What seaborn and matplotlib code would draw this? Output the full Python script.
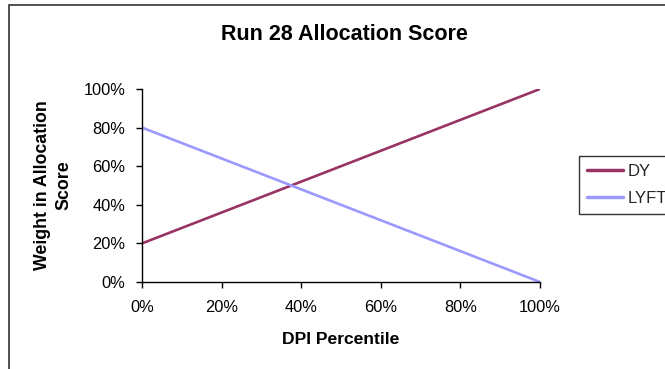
import matplotlib
matplotlib.use("Agg")
import matplotlib.pyplot as plt
import matplotlib.patches as mpatches
from matplotlib.ticker import PercentFormatter
import pandas as pd
import seaborn as sns

# DPI percentile grid (%) and the weight each component gets in the score (%)
percentile = [0, 10, 20, 30, 40, 50, 60, 70, 80, 90, 100]
dy_weight = [20, 28, 36, 44, 52, 60, 68, 76, 84, 92, 100]
lyft_weight = [80, 72, 64, 56, 48, 40, 32, 24, 16, 8, 0]
series_names = ["DY", "LYFT"]
series_colors = ["#993366", "#9999FF"]

df = pd.DataFrame({
    "DPI Percentile": percentile * 2,
    "Weight": dy_weight + lyft_weight,
    "Series": [series_names[0]] * len(percentile) + [series_names[1]] * len(percentile),
})

sns.set_theme(style="white")
plt.rcParams["font.family"] = ["Liberation Sans", "DejaVu Sans"]

W, H = 665, 369
fig = plt.figure(figsize=(W / 100, H / 100), dpi=100)
ax = fig.add_axes([142 / W, 1 - 282 / H, (540 - 142) / W, (282 - 89) / H])

sns.lineplot(data=df, x="DPI Percentile", y="Weight", hue="Series",
             palette=dict(zip(series_names, series_colors)),
             linewidth=1.9, ax=ax, legend=False)

ax.set_xlim(0, 100)
ax.set_ylim(0, 100)
ax.set_xticks(range(0, 101, 20))
ax.set_yticks(range(0, 101, 20))
ax.xaxis.set_major_formatter(PercentFormatter(decimals=0))
ax.yaxis.set_major_formatter(PercentFormatter(decimals=0))
for side in ("top", "right"):
    ax.spines[side].set_visible(False)
for side in ("left", "bottom"):
    ax.spines[side].set_color("black")
    ax.spines[side].set_linewidth(1.0)
ax.tick_params(axis="both", direction="out", length=4, width=1, color="black",
               labelsize=11.8, labelcolor="black", bottom=True, left=True)
ax.tick_params(axis="x", pad=9)
ax.tick_params(axis="y", pad=8)

ax.set_xlabel("DPI Percentile", fontsize=12.6, fontweight="bold", color="black", labelpad=12)
ax.set_ylabel("Weight in Allocation\nScore", fontsize=12.8, fontweight="bold", color="black",
              labelpad=8, linespacing=1.3)

fig.text(344 / W, 1 - 34 / H, "Run 28 Allocation Score", ha="center", va="center",
         fontsize=15.5, fontweight="bold", color="black")

handles = [plt.Line2D([], [], color=c, linewidth=2.5) for c in series_colors]
leg = fig.legend(handles, series_names, loc="upper left",
                 bbox_to_anchor=(579 / W, 1 - 156 / H), borderaxespad=0,
                 fontsize=12, frameon=True, fancybox=False, shadow=False,
                 handlelength=2.2, handletextpad=0.25, labelspacing=0.75,
                 borderpad=0.45)
leg.get_frame().set_edgecolor("black")
leg.get_frame().set_linewidth(1.0)

# outer chart border (runs past the right and bottom edges)
fig.patches.append(mpatches.Rectangle((9 / W, -0.1), 1.2, 1 - 5 / H + 0.1,
                                      transform=fig.transFigure, fill=False,
                                      edgecolor="#333333", linewidth=1.2))

fig.savefig("out.png", dpi=100)
